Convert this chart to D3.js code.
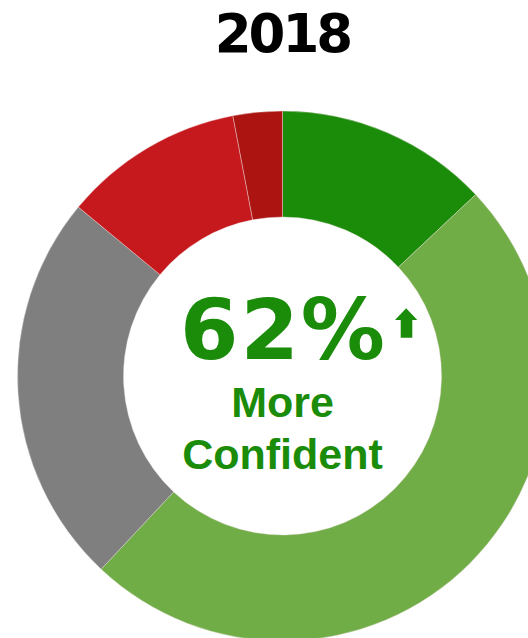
<!DOCTYPE html>
<html>
<head>
<meta charset="utf-8">
<script src="https://cdn.jsdelivr.net/npm/d3@7/dist/d3.min.js"></script>
<style>
  html, body { margin: 0; padding: 0; background: #fff; overflow: hidden; }
  svg { display: block; }
</style>
</head>
<body>
<svg id="chart" width="528" height="638"></svg>
<script>
// Response shares for 2018, clockwise from 12 o'clock
const categories = ["Much more confident", "More confident", "No change", "Less confident", "Much less confident"];
const values = [13, 49, 24, 11, 3];
const colors = ["#1a8c0a", "#70ad47", "#7f7f7f", "#c5191d", "#ab1411"];
const title = "2018";
const subtitle = ["More", "Confident"];

const svg = d3.select("#chart");
const cx = 282.5, cy = 376;
const outerR = 265, innerR = 159;

svg.append("text")
  .attr("x", cx).attr("y", 52)
  .attr("text-anchor", "middle")
  .attr("font-family", "'DejaVu Sans', sans-serif")
  .attr("font-weight", "bold")
  .attr("font-size", 53)
  .attr("letter-spacing", -3)
  .attr("fill", "#000")
  .text(title);

const pie = d3.pie().sort(null).value(d => d.value);
const arc = d3.arc().innerRadius(innerR).outerRadius(outerR);
const data = categories.map((c, i) => ({ name: c, value: values[i], color: colors[i] }));

const g = svg.append("g").attr("transform", `translate(${cx},${cy})`);
g.selectAll("path.slice")
  .data(pie(data))
  .join("path")
  .attr("class", "slice")
  .attr("d", arc)
  .attr("fill", d => d.data.color)
  .attr("stroke", "#f3e3e3")
  .attr("stroke-width", 0.4);

const green = "#1a8c0a";

// Headline: combined share of the two confident groups
const greenTotal = d3.sum(values.slice(0, 2));
g.append("text")
  .attr("x", 1).attr("y", -17)
  .attr("text-anchor", "middle")
  .attr("font-family", "'DejaVu Sans', sans-serif")
  .attr("font-weight", "bold")
  .attr("font-size", 84)
  .attr("letter-spacing", 2)
  .attr("fill", green)
  .text(greenTotal + "%");

// Small up arrow to the right of the headline
const arrow = { l: 112.5, r: 134.8, top: -67.7, base: -56, sl: 118.2, sr: 129.8, bot: -38.3 };
const am = (arrow.l + arrow.r) / 2;
g.append("path")
  .attr("d", `M${am},${arrow.top} L${arrow.r},${arrow.base} L${arrow.sr},${arrow.base} L${arrow.sr},${arrow.bot} L${arrow.sl},${arrow.bot} L${arrow.sl},${arrow.base} L${arrow.l},${arrow.base} Z`)
  .attr("fill", green);

g.selectAll("text.sub")
  .data(subtitle)
  .join("text")
  .attr("class", "sub")
  .attr("x", 0)
  .attr("y", (d, i) => 41 + i * 51.5)
  .attr("text-anchor", "middle")
  .attr("font-family", "'Liberation Sans', Arial, sans-serif")
  .attr("font-weight", "bold")
  .attr("font-size", 43)
  .attr("fill", green)
  .text(d => d);
</script>
</body>
</html>
